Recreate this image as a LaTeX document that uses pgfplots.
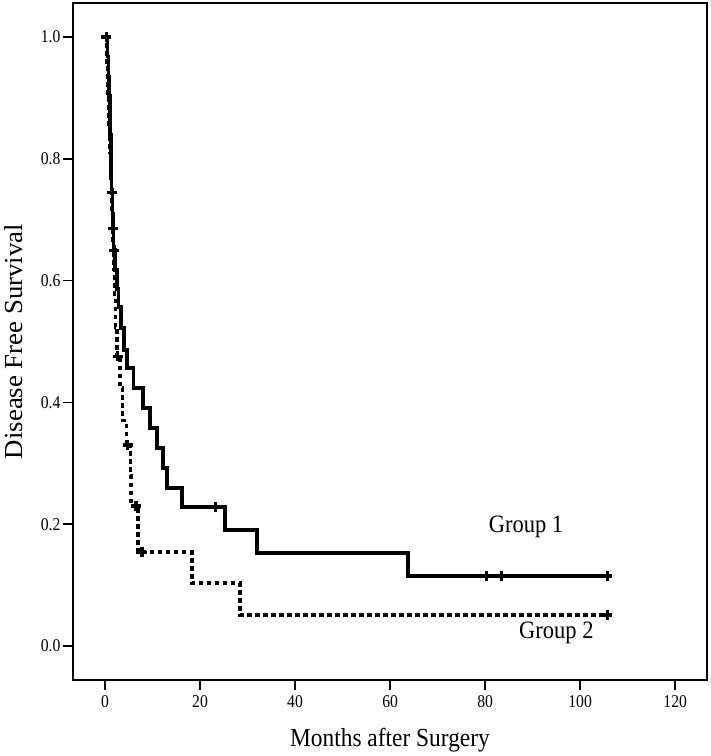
\documentclass[border=0pt]{standalone}
\usepackage{fontspec}
\setmainfont{Liberation Serif}[FakeStretch=0.9]
\newfontfamily\tickfam{Liberation Serif}[FakeStretch=0.87]
\newfontfamily\ylabfam{Liberation Serif}[FakeStretch=1.03]
\usepackage{pgfplots}
\pgfplotsset{compat=1.18}
\newcommand{\tkfont}{\tickfam\fontsize{18bp}{18bp}\selectfont}
\begin{document}
\begin{tikzpicture}
\begin{axis}[
  scale only axis,
  width=634bp, height=677bp,
  xmin=-6.74, xmax=126.7,
  ymin=-0.0558, ymax=1.0558,
  xtick={0,20,40,60,80,100,120},
  ytick={0,0.2,0.4,0.6,0.8,1.0},
  xtick pos=left, ytick pos=left,
  tick align=outside,
  major tick length=10bp,
  tick style={line width=1.5bp, black},
  axis line style={line width=1.2bp},
  /pgf/number format/assume math mode=true,
  xticklabel={\tkfont\pgfmathprintnumber{\tick}},
  yticklabel={\tkfont\pgfmathprintnumber[fixed,fixed zerofill,precision=1]{\tick}},
  xticklabel style={yshift=-2bp},
  yticklabel style={xshift=1bp},
  xlabel={Months after Surgery},
  ylabel={Disease Free Survival},
  xlabel style={font=\fontsize{26bp}{28bp}\selectfont, at={(axis description cs:0.5,0)}, anchor=center, yshift=-60bp},
  ylabel style={font=\ylabfam\fontsize{26bp}{28bp}\selectfont, at={(axis description cs:0,0.5)}, anchor=center, rotate=0, yshift=59bp},
  clip=false,
]
% Group 1 (solid)
\addplot[const plot, line width=3.6bp, black] coordinates {
(0,1.0) (0.5,0.968) (0.7,0.935) (0.9,0.903) (1.0,0.871) (1.1,0.839) (1.2,0.806)
(1.3,0.774) (1.4,0.744) (1.6,0.710) (1.7,0.685) (1.8,0.650) (2.1,0.617) (2.5,0.586)
(2.8,0.557) (3.4,0.522) (4.0,0.486) (4.6,0.456) (6.0,0.424) (8.0,0.391) (9.5,0.358)
(10.9,0.325) (12.2,0.292) (13.0,0.259) (16.2,0.228) (25.3,0.190) (32.0,0.153)
(63.8,0.115) (105.7,0.115)
};
% Group 2 (dotted)
\addplot[const plot, line width=3.6bp, black, dash pattern=on 4.5bp off 3.5bp] coordinates {
(0,1.0) (0.4,0.952) (0.6,0.905) (0.8,0.857) (1.0,0.810) (1.2,0.762) (1.4,0.714)
(1.6,0.667) (1.8,0.619) (2.0,0.571) (2.2,0.524) (2.5,0.476) (3.2,0.424) (3.7,0.370)
(4.5,0.330) (5.4,0.280) (5.5,0.230) (6.9,0.154) (18.3,0.103) (28.4,0.051) (105.7,0.051)
};
% censored marks group 1
\addplot[only marks, mark=+, mark size=5bp, mark options={line width=3.2bp, black}] coordinates {
(0.3,1.0) (1.5,0.744) (1.75,0.685) (1.9,0.650) (23.2,0.228) (80.3,0.115) (83.4,0.115) (105.7,0.115)
};
% censored marks group 2
\addplot[only marks, mark=+, mark size=5bp, mark options={line width=3.2bp, black, solid}] coordinates {
(2.7,0.476) (4.8,0.330) (6.5,0.230) (7.8,0.154) (105.7,0.051)
};
\node[font=\fontsize{25bp}{27bp}\selectfont] at (axis cs:88.6,0.195) {Group 1};
\node[font=\fontsize{25bp}{27bp}\selectfont] at (axis cs:95,0.021) {Group 2};
\end{axis}
\pgfresetboundingbox
\path[use as bounding box] (-73bp,-76bp) rectangle (638bp,680bp);
\end{tikzpicture}
\end{document}
